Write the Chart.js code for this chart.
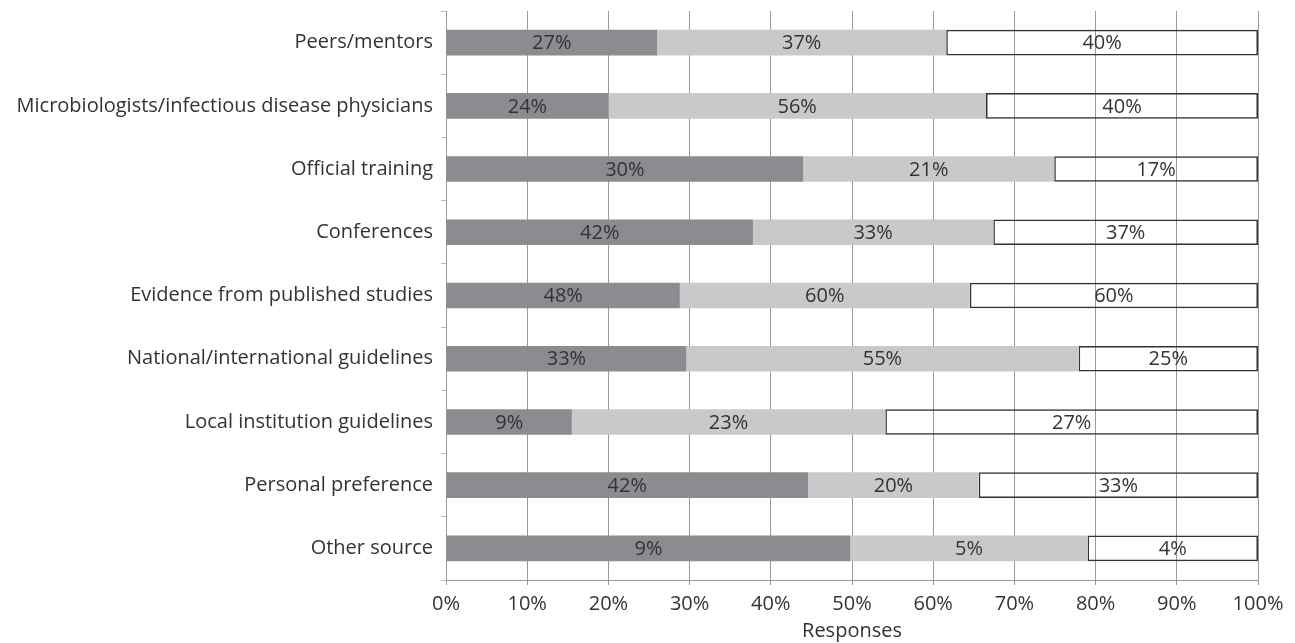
<!DOCTYPE html>
<html>
<head>
<meta charset="utf-8">
<script src="https://cdn.jsdelivr.net/npm/chart.js@4"></script>
<style>
  html, body { margin: 0; padding: 0; background: #fff; }
  #wrap { width: 1295px; height: 643px; }
</style>
</head>
<body>
<div id="wrap"><canvas id="chart"></canvas></div>
<script>
const categories = [
  "Peers/mentors",
  "Microbiologists/infectious disease physicians",
  "Official training",
  "Conferences",
  "Evidence from published studies",
  "National/international guidelines",
  "Local institution guidelines",
  "Personal preference",
  "Other source"
];

// segment widths (share of responses, %)
const darkValues = [26.0, 20.0, 44.0, 37.8, 28.8, 29.6, 15.5, 44.6, 49.8];
const lightValues = [35.6, 46.5, 30.9, 29.6, 35.7, 48.3, 38.6, 21.0, 29.2];
const whiteValues = [38.4, 33.5, 25.1, 32.6, 35.5, 22.1, 45.9, 34.4, 21.0];

// printed labels inside each segment
const darkLabels = ["27%", "24%", "30%", "42%", "48%", "33%", "9%", "42%", "9%"];
const lightLabels = ["37%", "56%", "21%", "33%", "60%", "55%", "23%", "20%", "5%"];
const whiteLabels = ["40%", "40%", "17%", "37%", "60%", "25%", "27%", "33%", "4%"];

const xTicks = [0, 10, 20, 30, 40, 50, 60, 70, 80, 90, 100];

const FONT = "'Open Sans', 'DejaVu Sans', sans-serif";
const SIZE = 20;
const TEXT = "#333";

const segmentLabels = {
  id: "segmentLabels",
  afterDatasetsDraw(chart) {
    const ctx = chart.ctx;
    ctx.save();
    ctx.font = `${SIZE}px ${FONT}`;
    ctx.fillStyle = TEXT;
    ctx.textAlign = "center";
    ctx.textBaseline = "middle";
    chart.data.datasets.forEach((ds, i) => {
      const meta = chart.getDatasetMeta(i);
      meta.data.forEach((el, j) => {
        const { x, base, y } = el.getProps(["x", "base", "y"], true);
        ctx.fillText(ds.segLabels[j], (x + base) / 2, y + 1);
      });
    });
    ctx.restore();
  }
};

new Chart(document.getElementById("chart"), {
  type: "bar",
  data: {
    labels: categories,
    datasets: [
      {
        data: darkValues,
        segLabels: darkLabels,
        backgroundColor: "#8b8c90",
        borderWidth: 0
      },
      {
        data: lightValues,
        segLabels: lightLabels,
        backgroundColor: "#c8c9cb",
        borderWidth: 0
      },
      {
        data: whiteValues,
        segLabels: whiteLabels,
        backgroundColor: "rgba(255,255,255,0)",
        borderColor: "#333",
        borderWidth: 1.5,
        borderSkipped: false
      }
    ]
  },
  options: {
    indexAxis: "y",
    responsive: true,
    maintainAspectRatio: false,
    animation: false,
    datasets: { bar: { barPercentage: 0.81, categoryPercentage: 0.5 } },
    layout: { padding: { top: 11, right: 37, bottom: 0, left: 0 } },
    plugins: {
      legend: { display: false },
      tooltip: { enabled: false }
    },
    scales: {
      x: {
        stacked: true,
        min: 0,
        max: 100,
        afterBuildTicks: (scale) => {
          scale.ticks = xTicks.map((v) => ({ value: v }));
        },
        afterFit: (scale) => { scale.height = 63; },
        grid: { color: "#999", lineWidth: 1, tickLength: 5 },
        border: { color: "#999" },
        ticks: {
          color: TEXT,
          padding: 7,
          font: { family: FONT, size: SIZE },
          maxRotation: 0,
          callback: (v) => v + "%"
        },
        title: {
          display: true,
          text: "Responses",
          color: TEXT,
          font: { family: FONT, size: SIZE },
          padding: 0
        }
      },
      y: {
        stacked: true,
        afterFit: (scale) => {
          scale.width = 446;
          scale.paddingTop = 0;
          scale.paddingBottom = 0;
        },
        grid: {
          offset: true,
          drawOnChartArea: false,
          color: "#bbb",
          tickLength: 5
        },
        border: { color: "#999" },
        ticks: {
          color: TEXT,
          padding: 8,
          font: { family: FONT, size: SIZE }
        }
      }
    }
  },
  plugins: [segmentLabels]
});
</script>
</body>
</html>
